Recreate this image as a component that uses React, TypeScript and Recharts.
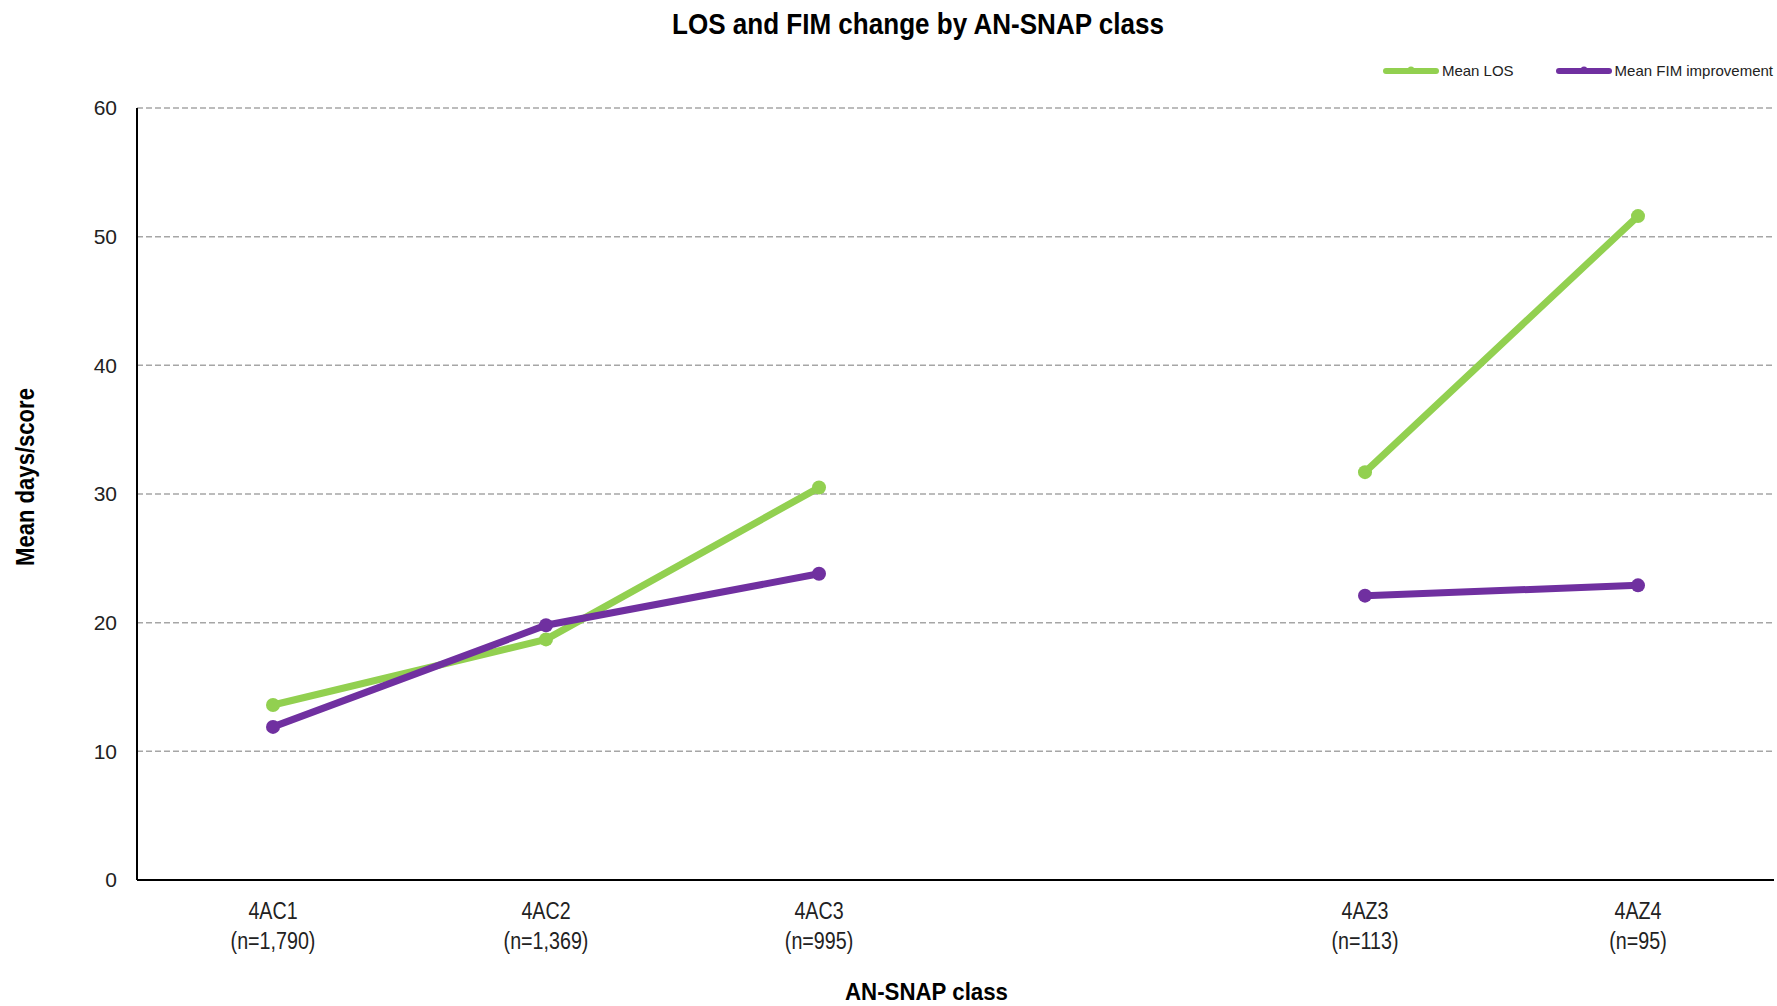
import React from "react";
import {
  LineChart,
  Line,
  XAxis,
  YAxis,
  CartesianGrid,
} from "recharts";

const classes = ["4AC1", "4AC2", "4AC3", "", "4AZ3", "4AZ4"];
const counts = ["(n=1,790)", "(n=1,369)", "(n=995)", "", "(n=113)", "(n=95)"];
const meanLos = [13.6, 18.7, 30.5, null, 31.7, 51.6];
const meanFim = [11.9, 19.8, 23.8, null, 22.1, 22.9];
const yTicks = [0, 10, 20, 30, 40, 50, 60];

const GREEN = "#92D050";
const PURPLE = "#7030A0";
const FONT = "'Liberation Sans', Arial, sans-serif";

const data = classes.map((c, i) => ({
  name: c,
  count: counts[i],
  los: meanLos[i],
  fim: meanFim[i],
}));

// Arial Narrow look-alike: squeeze Liberation Sans horizontally
const ClassTick = (props: any) => {
  const { x, y, payload } = props;
  const idx = classes.indexOf(payload.value);
  if (!payload.value) return null;
  return (
    <g transform={`translate(${x},${y}) scale(0.82,1)`}>
      <text textAnchor="middle" fontFamily={FONT} fontSize={24} fill="#222">
        <tspan x={0} dy={31}>{payload.value}</tspan>
        <tspan x={0} dy={30}>{counts[idx]}</tspan>
      </text>
    </g>
  );
};

const XTitle = (props: any) => {
  const { viewBox } = props;
  const cx = viewBox.x + viewBox.width / 2 - 29;
  return (
    <text
      x={cx}
      y={1000}
      textAnchor="middle"
      fontFamily={FONT}
      fontWeight="bold"
      fontSize={24}
      fill="#000"
      textLength={163}
      lengthAdjust="spacingAndGlyphs"
    >
      AN-SNAP class
    </text>
  );
};

const YTitle = () => (
  <text
    transform="translate(34,477) rotate(-90)"
    textAnchor="middle"
    fontFamily={FONT}
    fontWeight="bold"
    fontSize={26}
    fill="#000"
    textLength={178}
    lengthAdjust="spacingAndGlyphs"
  >
    Mean days/score
  </text>
);

const legendItems = [
  { label: "Mean LOS", color: GREEN },
  { label: "Mean FIM improvement", color: PURPLE },
];

const LegendBox = () => (
  <div
    style={{
      position: "absolute",
      top: 60,
      right: 4,
      display: "flex",
      fontFamily: FONT,
      fontSize: 15,
      lineHeight: "22px",
      color: "#222",
      whiteSpace: "nowrap",
    }}
  >
    {legendItems.map((it) => (
      <div key={it.label} style={{ display: "flex", alignItems: "center", marginLeft: 42 }}>
        <svg width={56} height={12}>
          <line x1={3} y1={6} x2={53} y2={6} stroke={it.color} strokeWidth={6} strokeLinecap="round" />
          <circle cx={28} cy={5} r={3.5} fill={it.color} />
        </svg>
        <span style={{ marginLeft: 3 }}>{it.label}</span>
      </div>
    ))}
  </div>
);

export default function App() {
  return (
    <div style={{ position: "absolute", left: 0, top: 0, width: 1777, height: 1006, background: "#fff" }}>
      <svg width={1777} height={50} style={{ position: "absolute", left: 0, top: 0 }}>
        <text
          x={918}
          y={34}
          textAnchor="middle"
          fontFamily={FONT}
          fontWeight="bold"
          fontSize={30}
          fill="#000"
          textLength={492}
          lengthAdjust="spacingAndGlyphs"
        >
          LOS and FIM change by AN-SNAP  class
        </text>
      </svg>
      <LegendBox />
      <LineChart
        width={1777}
        height={1006}
        data={data}
        margin={{ top: 108, right: 3, bottom: 0, left: 77 }}
      >
        <CartesianGrid vertical={false} stroke="#A6A6A6" strokeDasharray="6 3" strokeWidth={1.5} />
        <XAxis
          dataKey="name"
          height={126}
          padding={{ left: 136, right: 136 }}
          axisLine={{ stroke: "#000", strokeWidth: 2 }}
          tickLine={false}
          interval={0}
          tick={<ClassTick />}
          label={<XTitle />}
        />
        <YAxis
          width={60}
          domain={[0, 60]}
          ticks={yTicks}
          axisLine={{ stroke: "#000", strokeWidth: 2 }}
          tickLine={false}
          tickMargin={14}
          tick={{ fontFamily: FONT, fontSize: 21, fill: "#222" }}
          label={<YTitle />}
        />
        <Line
          type="linear"
          dataKey="los"
          name="Mean LOS"
          stroke={GREEN}
          strokeWidth={7}
          dot={{ r: 7, fill: GREEN, stroke: GREEN, strokeWidth: 0 }}
          activeDot={false}
          isAnimationActive={false}
        />
        <Line
          type="linear"
          dataKey="fim"
          name="Mean FIM improvement"
          stroke={PURPLE}
          strokeWidth={7}
          dot={{ r: 7, fill: PURPLE, stroke: PURPLE, strokeWidth: 0 }}
          activeDot={false}
          isAnimationActive={false}
        />
      </LineChart>
    </div>
  );
}
